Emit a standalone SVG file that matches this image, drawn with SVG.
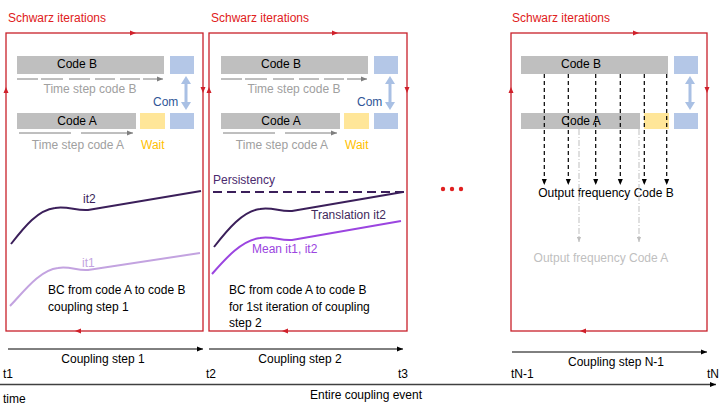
<svg xmlns="http://www.w3.org/2000/svg" width="720" height="405" viewBox="0 0 720 405">
<defs>
<style>
text{font-family:"Liberation Sans",Arial,sans-serif;font-size:12px}
.red{fill:#e02020}
.frame{fill:none;stroke:#c8202a;stroke-width:1.3}
.bar{fill:#bfbfbf}
.blue{fill:#b4c7e7}
.yel{fill:#ffe699}
.ts{stroke:#7f7f7f;stroke-width:1;fill:none;marker-end:url(#ga)}
.gt{fill:#a0a0a0}
.bk{fill:#000}
.conn{stroke:#000;stroke-width:1;fill:none;marker-end:url(#ba)}
.dash{stroke:#000;stroke-width:1.2;fill:none;stroke-dasharray:4,3;marker-end:url(#ba)}
.dd{stroke:#bfbfbf;stroke-width:1;fill:none;stroke-dasharray:6,2,1,2;marker-end:url(#la)}
</style>
<marker id="ga" viewBox="0 0 6 6" refX="6" refY="3" markerWidth="6" markerHeight="6" markerUnits="userSpaceOnUse" orient="auto"><path d="M0,0.5 L6,3 L0,5.5 Z" fill="#7f7f7f"/></marker>
<marker id="ba" viewBox="0 0 6 6" refX="6" refY="3" markerWidth="6" markerHeight="6" markerUnits="userSpaceOnUse" orient="auto"><path d="M0,0.5 L6,3 L0,5.5 Z" fill="#000"/></marker>
<marker id="la" viewBox="0 0 6 6" refX="6" refY="3" markerWidth="5" markerHeight="5" markerUnits="userSpaceOnUse" orient="auto"><path d="M0,0.5 L6,3 L0,5.5 Z" fill="#bfbfbf"/></marker>
<path id="ah" d="M-3,-2.5 L3,0 L-3,2.5 Z" fill="#d0202a"/>
<polygon id="com" points="0,0 5,8 1.5,8 1.5,26 5,26 0,34 -5,26 -1.5,26 -1.5,8 -5,8" fill="#a9c0e4"/>
<g id="codes">
<rect class="bar" x="17" y="56" width="147" height="18"/>
<rect class="blue" x="170" y="56" width="24" height="18"/>
<text x="77" y="68" text-anchor="middle">Code B</text>
<rect class="bar" x="17" y="113" width="119" height="16"/>
<rect class="yel" x="140" y="113" width="25" height="16"/>
<rect class="blue" x="170" y="113" width="24" height="16"/>
<text x="77" y="125" text-anchor="middle">Code A</text>
<use href="#com" x="186" y="76"/>
</g>
<g id="steps">
<path class="ts" d="M17,79 H38 M41,79 H63 M69,79 H90 M95,79 H115 M120,79 H140 M143,79 H163"/>
<text class="gt" x="90" y="93" text-anchor="middle">Time step code B</text>
<text x="153" y="106" fill="#2f5597">Com</text>
<path class="ts" d="M19,133 H71 M81,133 H133"/>
<text class="gt" x="78" y="149" text-anchor="middle">Time step code A</text>
<text x="141" y="149" fill="#ffc000">Wait</text>
</g>
</defs>

<g id="panel1">
<text class="red" x="8" y="22">Schwarz iterations</text>
<rect class="frame" x="6" y="33" width="197" height="298"/>
<use href="#ah" transform="translate(133,33)"/>
<use href="#ah" transform="translate(203,90) rotate(90)"/>
<use href="#ah" transform="translate(78,331) rotate(180)"/>
<use href="#ah" transform="translate(6,90) rotate(-90)"/>
<use href="#codes"/>
<use href="#steps"/>
<path d="M11,244 C25,226 38,210 55,208 C68,206 76,211 88,210 L201,191" fill="none" stroke="#3b1f5a" stroke-width="2"/>
<text x="83" y="203" fill="#3b1f5a">it2</text>
<path d="M10,306 C25,290 40,270 58,268 C70,266 77,271 88,270 L200,253" fill="none" stroke="#c3a3e0" stroke-width="2"/>
<text x="82" y="267" fill="#c3a3e0">it1</text>
<text x="48" y="294">BC from code A to code B</text>
<text x="48" y="311">coupling step 1</text>
</g>

<g id="panel2">
<text class="red" x="211" y="22">Schwarz iterations</text>
<rect class="frame" x="209" y="33" width="198" height="298"/>
<use href="#ah" transform="translate(335,33)"/>
<use href="#ah" transform="translate(407,90) rotate(90)"/>
<use href="#ah" transform="translate(285,331) rotate(180)"/>
<use href="#ah" transform="translate(209,90) rotate(-90)"/>
<g transform="translate(204,0)">
<use href="#codes"/>
<use href="#steps"/>
</g>
<path d="M213,192 H407" fill="none" stroke="#3b1f5a" stroke-width="2.2" stroke-dasharray="9,5"/>
<text x="213" y="184" fill="#4b2a6e">Persistency</text>
<path d="M214,247 C228,229 243,211 260,209 C273,207 280,212 292,211 L403,192" fill="none" stroke="#3b1f5a" stroke-width="2"/>
<text x="311" y="219" fill="#3f2a5c">Translation it2</text>
<path d="M212,274 C226,258 242,240 260,238 C273,236 280,241 292,240 L401,221" fill="none" stroke="#9b45e0" stroke-width="2"/>
<text x="252" y="253" fill="#9b45e0">Mean it1, it2</text>
<text x="229" y="294">BC from code A to code B</text>
<text x="229" y="311">for 1st iteration of coupling</text>
<text x="229" y="327">step 2</text>
</g>

<g id="dots" fill="#e02020">
<circle cx="443" cy="189" r="2.2"/>
<circle cx="452" cy="189" r="2.2"/>
<circle cx="461" cy="189" r="2.2"/>
</g>

<g id="panel3">
<text class="red" x="512" y="22">Schwarz iterations</text>
<rect class="frame" x="511" y="33" width="196" height="298"/>
<use href="#ah" transform="translate(636,33)"/>
<use href="#ah" transform="translate(707,90) rotate(90)"/>
<use href="#ah" transform="translate(583,331) rotate(180)"/>
<use href="#ah" transform="translate(511,90) rotate(-90)"/>
<g transform="translate(504,0)">
<use href="#codes"/>
</g>
<text x="606" y="197" text-anchor="middle">Output frequency Code B</text>
<text x="601" y="262" text-anchor="middle" fill="#bfbfbf">Output frequency Code A</text>
</g>

<g id="connectors">
<path class="dash" d="M544.3,74 V185"/>
<path class="dash" d="M568.3,74 V185"/>
<path class="dash" d="M595.7,74 V185"/>
<path class="dash" d="M620.3,74 V185"/>
<path class="dash" d="M644.3,74 V185"/>
<path class="dash" d="M666.7,74 V185"/>
<path class="dd" d="M579,129 V242"/>
<path class="dd" d="M639,129 V242"/>
<path class="conn" d="M8,349 H203"/>
<path class="conn" d="M209,349 H403"/>
<path class="conn" d="M512,352 H707"/>
<path d="M0,384.5 H716" stroke="#404040" stroke-width="1.5" fill="none" marker-end="url(#ba)"/>
</g>

<g id="labels">
<text x="103" y="363" text-anchor="middle">Coupling step 1</text>
<text x="300" y="363" text-anchor="middle">Coupling step 2</text>
<text x="616" y="366" text-anchor="middle">Coupling step N-1</text>
<text x="3" y="378">t1</text>
<text x="206" y="378">t2</text>
<text x="398" y="378">t3</text>
<text x="511" y="378">tN-1</text>
<text x="707" y="378">tN</text>
<text x="3" y="403">time</text>
<text x="366" y="399" text-anchor="middle">Entire coupling event</text>
</g>
</svg>
